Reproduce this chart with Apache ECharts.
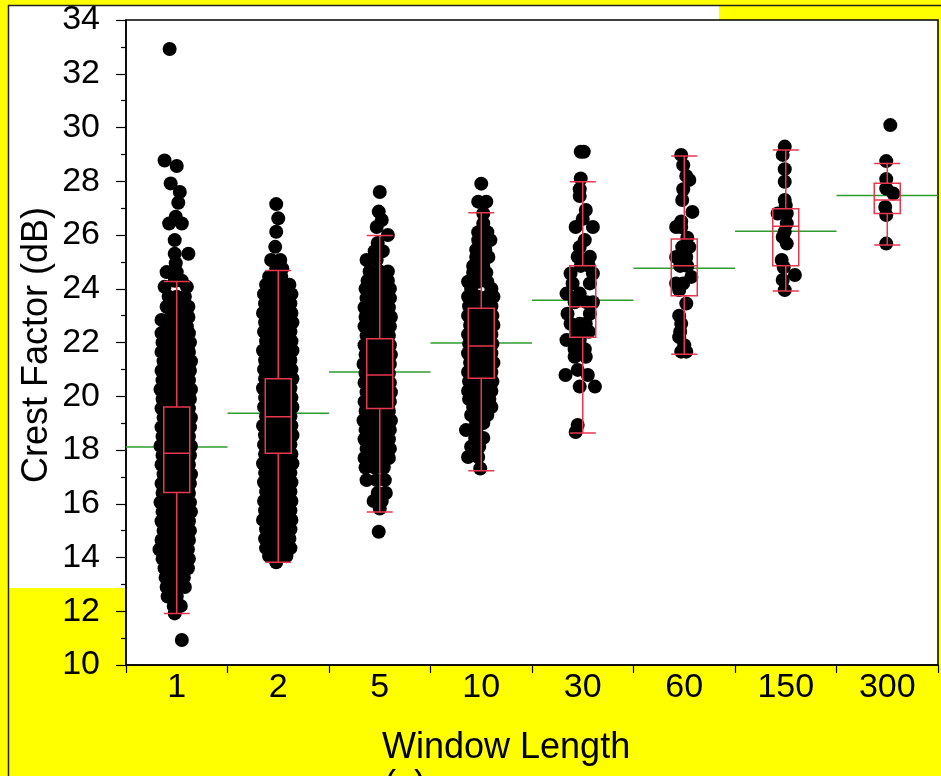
<!DOCTYPE html>
<html>
<head>
<meta charset="utf-8">
<title>Crest Factor by Window Length</title>
<script src="https://cdn.jsdelivr.net/npm/echarts@6/dist/echarts.min.js"></script>
<style>
  html, body { margin: 0; padding: 0; background: #ffff00; }
  #chart { width: 941px; height: 776px; }
</style>
</head>
<body>
<div id="chart"></div>
<script>
// Window lengths (s) on the x axis
const categories = ['1', '2', '5', '10', '30', '60', '150', '300'];

// Box plot statistics per window: [lower whisker, Q1, median, Q3, upper whisker]
const boxStats = [
  [11.92, 16.42, 17.88, 19.60, 24.27],
  [13.82, 17.88, 19.24, 20.65, 24.68],
  [15.69, 19.54, 20.79, 22.14, 25.98],
  [17.23, 20.67, 21.87, 23.27, 26.83],
  [18.63, 22.20, 23.33, 24.86, 27.98],
  [21.56, 23.74, 24.86, 25.85, 28.94],
  [23.92, 24.86, 26.33, 26.98, 29.16],
  [25.63, 26.80, 27.30, 27.93, 28.66]
];

// Group means (dB)
const means = [18.11, 19.37, 20.90, 21.98, 23.57, 24.76, 26.14, 27.47];

// Individual observations, one row per crest factor value:
// [crest factor (dB), jitter offset of each point at that value (fraction of a category)...]
const rows1 = [
  [32.92, -0.07], [28.77, -0.12], [28.57, 0.00], [27.92, -0.06], [27.60, 0.03],
  [27.20, 0.015], [26.68, -0.01], [26.43, -0.075, 0.05], [25.81, -0.02],
  [25.30, -0.02, 0.115], [24.95, -0.01], [24.62, -0.10, 0.00], [24.30, -0.02, 0.05],
  [24.07, -0.12, 0.10], [23.70, -0.08, 0.00, 0.08], [23.33, -0.10, 0.00, 0.115],
  [22.95, -0.06, 0.04, 0.115], [22.84, -0.15], [22.60, -0.08, 0.02, 0.10],
  [22.35, -0.15, -0.05, 0.05, 0.12],
  [22.00, -0.14, -0.05, 0.04, 0.13], [21.65, -0.15, -0.06, 0.03, 0.12],
  [21.30, -0.13, -0.04, 0.05, 0.14], [20.95, -0.15, -0.05, 0.04, 0.13],
  [20.60, -0.14, -0.06, 0.03, 0.12], [20.25, -0.16, -0.05, 0.05, 0.14],
  [19.90, -0.14, -0.04, 0.04, 0.13], [19.55, -0.15, -0.06, 0.03, 0.12],
  [19.20, -0.13, -0.05, 0.05, 0.14], [18.85, -0.15, -0.05, 0.04, 0.13],
  [18.50, -0.14, -0.04, 0.05, 0.12], [18.15, -0.16, -0.06, 0.04, 0.14],
  [17.80, -0.14, -0.05, 0.04, 0.13], [17.45, -0.15, -0.05, 0.05, 0.12],
  [17.10, -0.13, -0.04, 0.04, 0.14], [16.75, -0.15, -0.06, 0.03, 0.13],
  [16.40, -0.14, -0.05, 0.05, 0.12], [16.05, -0.16, -0.05, 0.04, 0.13],
  [15.70, -0.14, -0.04, 0.05, 0.14], [15.35, -0.15, -0.06, 0.03, 0.12],
  [15.00, -0.13, -0.05, 0.04, 0.13], [14.65, -0.15, -0.05, 0.05, 0.12],
  [14.30, -0.17, -0.06, 0.03, 0.11], [13.95, -0.14, -0.04, 0.05, 0.12],
  [13.60, -0.12, -0.03, 0.06, 0.11], [13.25, -0.11, -0.02, 0.07],
  [12.90, -0.10, 0.00, 0.08], [12.55, -0.09, 0.00], [12.20, -0.03, 0.04],
  [11.92, -0.02], [10.93, 0.05]
];

const rows2 = [
  [27.15, -0.02], [26.62, 0.00], [26.12, -0.02], [25.56, -0.03], [25.07, -0.07, 0.02],
  [24.75, -0.02, 0.04], [24.45, -0.09, 0.03], [24.15, -0.12, -0.03, 0.06, 0.11],
  [23.80, -0.14, -0.05, 0.04, 0.13], [23.45, -0.13, -0.04, 0.05, 0.12],
  [23.10, -0.15, -0.05, 0.04, 0.13], [22.75, -0.13, -0.04, 0.05, 0.14],
  [22.40, -0.14, -0.05, 0.04, 0.12], [22.05, -0.12, -0.04, 0.05, 0.13],
  [21.70, -0.15, -0.05, 0.04, 0.14], [21.35, -0.13, -0.04, 0.05, 0.12],
  [21.00, -0.14, -0.05, 0.04, 0.13], [20.65, -0.13, -0.04, 0.05, 0.14],
  [20.30, -0.15, -0.05, 0.04, 0.12], [19.95, -0.13, -0.04, 0.05, 0.13],
  [19.60, -0.14, -0.05, 0.04, 0.14], [19.25, -0.12, -0.04, 0.05, 0.12],
  [18.90, -0.15, -0.05, 0.04, 0.13], [18.55, -0.13, -0.04, 0.05, 0.14],
  [18.20, -0.14, -0.05, 0.04, 0.12], [17.85, -0.13, -0.04, 0.05, 0.13],
  [17.50, -0.15, -0.05, 0.04, 0.14], [17.15, -0.13, -0.04, 0.05, 0.12],
  [16.80, -0.14, -0.05, 0.04, 0.13], [16.45, -0.12, -0.04, 0.05, 0.12],
  [16.10, -0.14, -0.05, 0.04, 0.13], [15.75, -0.13, -0.04, 0.05, 0.12],
  [15.40, -0.15, -0.05, 0.04, 0.13], [15.05, -0.12, -0.04, 0.05, 0.12],
  [14.70, -0.13, -0.05, 0.04, 0.11], [14.35, -0.12, -0.03, 0.06, 0.12],
  [14.05, -0.09, 0.00, 0.08], [13.82, -0.02]
];

const rows5 = [
  [27.60, 0.00], [26.87, -0.01], [26.56, 0.02], [26.30, -0.03], [26.00, 0.08],
  [25.70, -0.02], [25.40, -0.05, 0.03], [25.07, -0.13, -0.03], [24.64, -0.10, 0.00, 0.08],
  [24.30, -0.12, -0.03, 0.08], [24.00, -0.14, -0.05, 0.04, 0.10],
  [23.65, -0.13, -0.05, 0.03, 0.10], [23.30, -0.15, -0.06, 0.02, 0.09],
  [22.95, -0.14, -0.05, 0.03, 0.11], [22.60, -0.15, -0.06, 0.02, 0.10],
  [22.25, -0.13, -0.05, 0.03, 0.09], [21.90, -0.15, -0.06, 0.02, 0.10],
  [21.55, -0.14, -0.05, 0.03, 0.11], [21.20, -0.16, -0.06, 0.02, 0.10],
  [20.85, -0.14, -0.05, 0.03, 0.09], [20.50, -0.15, -0.06, 0.02, 0.10],
  [20.15, -0.13, -0.05, 0.03, 0.11], [19.80, -0.15, -0.06, 0.02, 0.10],
  [19.45, -0.14, -0.05, 0.03, 0.09], [19.10, -0.16, -0.06, 0.02, 0.11],
  [18.75, -0.14, -0.05, 0.03, 0.10], [18.40, -0.15, -0.06, 0.02, 0.09],
  [18.05, -0.13, -0.05, 0.03, 0.10], [17.70, -0.15, -0.06, 0.02, 0.09],
  [17.35, -0.14, -0.05, 0.04], [16.88, -0.13, -0.03, 0.05], [16.40, -0.02, 0.06],
  [16.10, -0.06, 0.02], [15.82, 0.00], [14.96, -0.01]
];

const rows10 = [
  [27.91, 0.00], [27.24, -0.03, 0.05], [26.80, 0.02], [26.43, 0.02], [26.10, -0.03, 0.06],
  [25.81, -0.03, 0.09], [25.45, -0.05, 0.04], [25.18, -0.05, 0.07], [24.85, -0.08, 0.02],
  [24.60, -0.08, 0.05], [24.26, -0.13, -0.03, 0.06], [24.00, -0.10, 0.10],
  [23.70, -0.13, -0.03, 0.06, 0.12], [23.35, -0.12, -0.04, 0.05, 0.10],
  [23.00, -0.13, -0.04, 0.05, 0.11], [22.65, -0.11, -0.03, 0.06, 0.12],
  [22.30, -0.13, -0.04, 0.05, 0.10], [21.95, -0.12, -0.03, 0.05, 0.11],
  [21.60, -0.13, -0.04, 0.06, 0.10], [21.25, -0.11, -0.03, 0.05, 0.12],
  [20.90, -0.13, -0.04, 0.05, 0.10], [20.55, -0.12, -0.03, 0.06, 0.11],
  [20.20, -0.13, -0.04, 0.05, 0.10], [19.90, -0.12, -0.03, 0.08],
  [19.60, -0.08, 0.03, 0.10], [19.30, -0.10, -0.02, 0.06], [19.00, -0.05, 0.02],
  [18.74, -0.15, -0.05], [18.45, -0.06, 0.02], [18.12, -0.10, -0.02],
  [17.74, -0.13, -0.03], [17.31, -0.01]
];

const rows30 = [
  [29.10, -0.02, 0.01], [28.10, -0.02], [27.70, -0.03], [27.45, -0.03], [26.93, 0.03],
  [26.60, 0.00], [26.30, -0.07, 0.10], [25.81, 0.02], [25.55, -0.03], [25.19, -0.05, 0.07],
  [24.85, -0.02, 0.06], [24.57, -0.12, 0.10], [24.20, -0.10, 0.07], [23.82, -0.16, -0.03],
  [23.50, -0.08, 0.04, 0.10], [23.07, -0.15, 0.07], [22.70, -0.12, -0.03, 0.03],
  [22.40, -0.06, 0.06], [22.09, -0.16, -0.03], [21.75, -0.08, 0.02], [21.47, -0.08, 0.03],
  [20.98, -0.05], [20.79, -0.17, 0.05], [20.36, -0.03, 0.12], [18.93, -0.05], [18.67, -0.07]
];

const rows60 = [
  [28.98, -0.03], [28.60, -0.01], [28.20, 0.02], [28.05, 0.05], [27.70, -0.01],
  [27.30, -0.02], [26.86, 0.08], [26.50, -0.03], [26.30, -0.08, -0.03], [25.90, 0.03],
  [25.55, -0.02, 0.05], [25.18, -0.08, 0.02], [24.85, -0.04, 0.03], [24.44, 0.07],
  [24.20, -0.08, -0.01], [23.95, -0.05], [23.45, 0.02], [23.00, -0.05], [22.70, -0.03],
  [22.40, -0.04], [22.20, -0.05], [21.90, 0.00], [21.66, -0.03, 0.02]
];

const rows150 = [
  [29.29, -0.01], [28.98, -0.03], [28.45, -0.01], [27.98, -0.01], [27.30, -0.01],
  [27.10, 0.00], [26.80, -0.08, 0.01], [26.43, 0.01], [26.12, -0.01], [25.93, -0.03],
  [25.68, 0.01], [25.07, -0.04], [24.80, -0.02], [24.51, 0.09], [24.33, -0.03], [23.95, -0.01]
];

const rows300 = [
  [30.09, 0.03], [28.75, -0.01], [28.08, -0.01], [27.73, -0.01], [27.54, 0.06],
  [27.04, -0.02], [26.74, -0.01], [25.68, -0.01]
];

const pointRows = [rows1, rows2, rows5, rows10, rows30, rows60, rows150, rows300];

// Flatten rows into [x, y] pairs on the hidden value axis (category i sits at x = i)
const points = [];
pointRows.forEach((rows, i) => {
  rows.forEach(row => {
    for (let k = 1; k < row.length; k++) points.push([i + row[k], row[0]]);
  });
});

const FONT = "'Liberation Sans', Arial, sans-serif";
const chart = echarts.init(document.getElementById('chart'), null, { renderer: 'canvas' });

chart.setOption({
  backgroundColor: '#ffff00',
  animation: false,
  graphic: [
    // white report panel and frame lines
    { type: 'rect', z: -10, shape: { x: 9, y: 6, width: 929, height: 582 }, style: { fill: '#ffffff' } },
    { type: 'rect', z: -9, shape: { x: 719, y: 6, width: 219, height: 14 }, style: { fill: '#ffff00' } },
    { type: 'line', z: -8, shape: { x1: 8, y1: 5.5, x2: 941, y2: 5.5 }, style: { stroke: '#222', lineWidth: 1.5 } },
    { type: 'line', z: -8, shape: { x1: 8.5, y1: 5, x2: 8.5, y2: 776 }, style: { stroke: '#222', lineWidth: 1.5 } },
    // axis titles
    { type: 'text', z: 10, x: 37, y: 345, rotation: Math.PI / 2,
      style: { text: 'Crest Factor (dB)', font: '36px ' + FONT, fill: '#000', align: 'center', verticalAlign: 'middle' } },
    { type: 'text', z: 10, x: 382, y: 748,
      style: { text: 'Window Length', font: '36px ' + FONT, fill: '#000', align: 'left', verticalAlign: 'middle' } },
    { type: 'text', z: 10, x: 384, y: 786,
      style: { text: '(s)', font: '36px ' + FONT, fill: '#000', align: 'left', verticalAlign: 'middle' } }
  ],
  grid: {
    left: 126, right: 3, top: 20, bottom: 111,
    show: true, backgroundColor: '#ffffff', borderColor: '#000', borderWidth: 1.5
  },
  xAxis: [
    {
      type: 'category', data: categories, boundaryGap: true,
      axisLine: { onZero: false, lineStyle: { color: '#000', width: 1.5 } },
      axisTick: { show: true, length: 8, interval: 0, lineStyle: { color: '#000', width: 1.2 } },
      axisLabel: { interval: 0, fontSize: 34, fontFamily: FONT, color: '#000', margin: 6 },
      splitLine: { show: false }
    },
    { type: 'value', min: -0.5, max: 7.5, show: false, axisLine: { onZero: false } }
  ],
  yAxis: {
    type: 'value', min: 10, max: 34, interval: 2, position: 'left',
    axisLine: { show: true, onZero: false, lineStyle: { color: '#000', width: 1.5 } },
    axisTick: { show: true, length: 10, lineStyle: { color: '#000', width: 1.2 } },
    minorTick: { show: true, splitNumber: 2, length: 5, lineStyle: { color: '#000', width: 1.2 } },
    axisLabel: { fontSize: 34, fontFamily: FONT, color: '#000', margin: 26 },
    splitLine: { show: false }
  },
  series: [
    {
      name: 'Mean', type: 'custom', xAxisIndex: 1, z: 1,
      data: means.map((m, i) => [i, m]),
      renderItem: (params, api) => {
        const i = api.value(0), m = api.value(1);
        const a = api.coord([i - 0.5, m]);
        const b = api.coord([i + 0.5, m]);
        return { type: 'line', shape: { x1: a[0], y1: a[1], x2: b[0], y2: b[1] },
                 style: { stroke: '#2e9b2e', lineWidth: 1.5 } };
      },
      silent: true
    },
    {
      name: 'Crest Factor', type: 'scatter', xAxisIndex: 1, z: 2,
      data: points, symbol: 'circle', symbolSize: 14,
      itemStyle: { color: '#000', opacity: 1 }, silent: true
    },
    {
      name: 'Box', type: 'boxplot', xAxisIndex: 0, z: 3,
      data: boxStats, boxWidth: [26, 26],
      itemStyle: { color: 'rgba(0,0,0,0)', borderColor: '#e8384f', borderWidth: 1.5 },
      emphasis: { disabled: true }, silent: true
    }
  ]
});
</script>
</body>
</html>
